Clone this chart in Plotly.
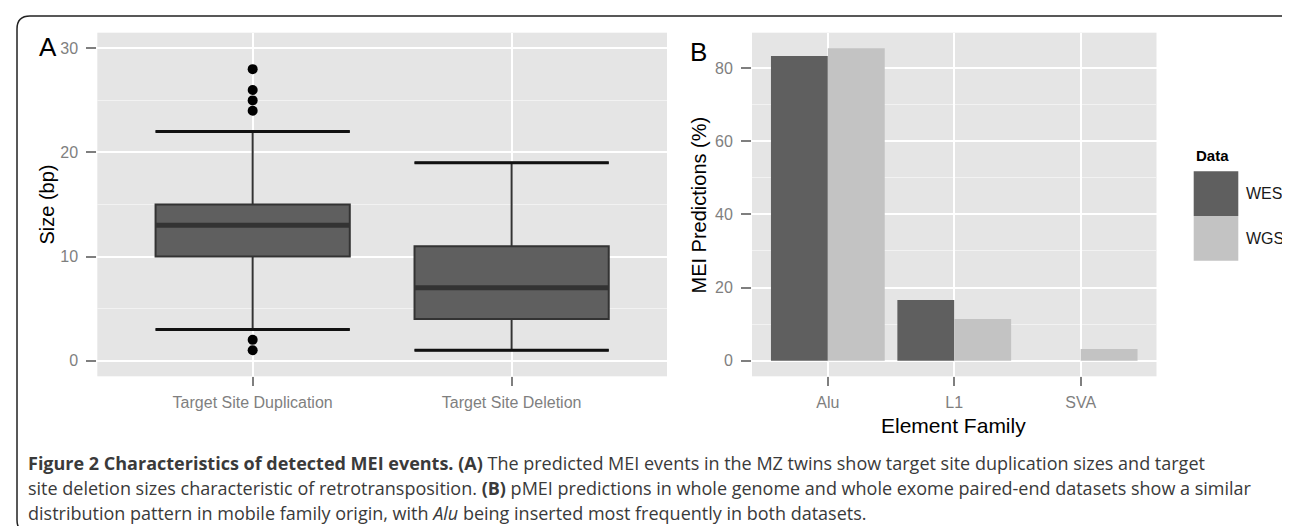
import plotly.graph_objects as go

W, H = 1290, 526

# ---------------- data ----------------
tsd_categories = ["Target Site Duplication", "Target Site Deletion"]
tsd_q1 = [10, 4]
tsd_median = [13, 7]
tsd_q3 = [15, 11]
tsd_lowerfence = [3, 1]
tsd_upperfence = [22, 19]
dup_outliers = [28, 26, 25, 24, 2, 1]

size_ticks = [0, 10, 20, 30]

families = ["Alu", "L1", "SVA"]
wes_pct = [83.3, 16.6, 0.0]
wgs_pct = [85.4, 11.4, 3.2]
pct_ticks = [0, 20, 40, 60, 80]

# ---------------- style ----------------
PANEL_BG = "#e5e5e5"
MINOR_GRID = "#f2f2f2"
BOX_FILL = "#5f5f5f"
BOX_LINE = "#333333"
WES_COLOR = "#5f5f5f"
WGS_COLOR = "#c3c3c3"
TICK_COLOR = "#7f7f7f"
AX_FONT = "Liberation Sans, Arial, sans-serif"
CAP_FONT = "Open Sans, sans-serif"
BOX_W = 0.75


def px(x):
    return x / W


def py(y):
    return 1 - y / H


posA = list(range(1, len(tsd_categories) + 1))
posB = list(range(1, len(families) + 1))

fig = go.Figure()

# Panel A: box plots from precomputed stats
fig.add_trace(go.Box(
    x=posA, q1=tsd_q1, median=tsd_median, q3=tsd_q3,
    lowerfence=tsd_lowerfence, upperfence=tsd_upperfence,
    width=BOX_W, whiskerwidth=1, boxpoints=False,
    fillcolor=BOX_FILL, line=dict(color=BOX_LINE, width=2),
    xaxis="x", yaxis="y", showlegend=False, hoverinfo="skip"))

# thicker median lines and whisker caps
for p, m in zip(posA, tsd_median):
    fig.add_trace(go.Scatter(x=[p - BOX_W / 2, p + BOX_W / 2], y=[m, m], mode="lines",
                             line=dict(color=BOX_LINE, width=5), xaxis="x", yaxis="y",
                             showlegend=False, hoverinfo="skip"))
for p, lo, hi in zip(posA, tsd_lowerfence, tsd_upperfence):
    for v in (lo, hi):
        fig.add_trace(go.Scatter(x=[p - BOX_W / 2, p + BOX_W / 2], y=[v, v], mode="lines",
                                 line=dict(color="#111111", width=3), xaxis="x", yaxis="y",
                                 showlegend=False, hoverinfo="skip"))

fig.add_trace(go.Scatter(x=[posA[0]] * len(dup_outliers), y=dup_outliers, mode="markers",
                         marker=dict(color="black", size=10), xaxis="x", yaxis="y",
                         showlegend=False, hoverinfo="skip"))

# Panel B: grouped bars
fig.add_trace(go.Bar(x=posB, y=wes_pct, name="WES", marker=dict(color=WES_COLOR, line=dict(width=0)),
                     xaxis="x2", yaxis="y2", showlegend=False, hoverinfo="skip"))
fig.add_trace(go.Bar(x=posB, y=wgs_pct, name="WGS", marker=dict(color=WGS_COLOR, line=dict(width=0)),
                     xaxis="x2", yaxis="y2", showlegend=False, hoverinfo="skip"))

ydom = [py(368.3), py(24.7)]
common_x = dict(showgrid=True, gridcolor="white", gridwidth=2, zeroline=False, showline=False,
                ticks="outside", ticklen=9, tickwidth=2, tickcolor=TICK_COLOR, ticklabelstandoff=2,
                tickfont=dict(family=AX_FONT, size=16, color=TICK_COLOR), fixedrange=True)
common_y = dict(showgrid=True, gridcolor="white", gridwidth=2, zeroline=False, showline=False,
                ticks="outside", ticklen=10, tickwidth=2, tickcolor=TICK_COLOR, ticklabelstandoff=5,
                tickfont=dict(family=AX_FONT, size=16, color=TICK_COLOR), fixedrange=True)

max_pct = max(max(wes_pct), max(wgs_pct))

fig.update_layout(
    width=W, height=H, margin=dict(l=0, r=0, t=0, b=0),
    paper_bgcolor="white", plot_bgcolor=PANEL_BG,
    barmode="group", bargap=0.1, bargroupgap=0,
    xaxis=dict(domain=[px(89.3), px(659)], range=[0.4, len(posA) + 0.6],
               tickvals=posA, ticktext=tsd_categories, anchor="y", **common_x),
    yaxis=dict(domain=ydom, range=[-1.5, 31.5], tickvals=size_ticks, anchor="x",
               minor=dict(tick0=5, dtick=10, showgrid=True, gridcolor=MINOR_GRID, gridwidth=1, ticks=""),
               **common_y),
    xaxis2=dict(domain=[px(744), px(1148.5)], range=[0.4, len(posB) + 0.6],
                tickvals=posB, ticktext=families, anchor="y2", **common_x),
    yaxis2=dict(domain=ydom, range=[-0.05 * max_pct, 1.05 * max_pct], tickvals=pct_ticks, anchor="x2",
                minor=dict(tick0=10, dtick=20, showgrid=True, gridcolor=MINOR_GRID, gridwidth=1, ticks=""),
                **common_y),
)

annotations = []


def note(text, x, y, size, color="black", xanchor="center", yanchor="middle", angle=0, family=AX_FONT):
    annotations.append(dict(text=text, x=px(x), y=py(y), xref="paper", yref="paper",
                            xanchor=xanchor, yanchor=yanchor, showarrow=False, textangle=angle,
                            align="left", font=dict(family=family, size=size, color=color)))


# axis titles
note("Size (bp)", 38, 196.5, 20, angle=-90)
note("MEI Predictions (%)", 690, 196.5, 20, angle=-90)
note("Element Family", 946, 417.5, 21)

# panel letters
note("A", 29, 39, 26, xanchor="left")
note("B", 680, 44, 26, xanchor="left")

# manual legend
note("<b>Data</b>", 1186, 147, 15, xanchor="left")
legend_items = [("WES", WES_COLOR), ("WGS", WGS_COLOR)]
shapes = []
key_top, key_h = 163.3, 44.7
for i, (lab, col) in enumerate(legend_items):
    t = key_top + i * key_h
    shapes.append(dict(type="rect", xref="paper", yref="paper", x0=px(1185.7), x1=px(1230.3),
                       y0=py(t + key_h), y1=py(t), fillcolor=col, line=dict(width=0), layer="above"))
    note(lab, 1236, t + key_h / 2, 16, color="#1a1a1a", xanchor="left")

# caption
caption_lines = [
    "<b>Figure 2 Characteristics of detected MEI events.</b> <b>(A)</b> The predicted MEI events in the MZ twins show target site duplication sizes and target",
    "site deletion sizes characteristic of retrotransposition. <b>(B)</b> pMEI predictions in whole genome and whole exome paired-end datasets show a similar",
    "distribution pattern in mobile family origin, with <i>Alu</i> being inserted most frequently in both datasets.",
]
for i, line in enumerate(caption_lines):
    note(line, 18, 455 + 25 * i, 18, color="#3a3a3a", xanchor="left", family=CAP_FONT)

# frame (rounded border)
def P(x, y):
    return f"{px(x):.5f},{py(y):.5f}"

frame = ("M " + P(22, 525) + " Q " + P(9, 525) + " " + P(9, 512) + " L " + P(9, 21) +
         " Q " + P(9, 8) + " " + P(22, 8) + " L " + P(1275, 8) + " Q " + P(1288, 8) + " " + P(1288, 21))
shapes.append(dict(type="path", xref="paper", yref="paper", path=frame,
                   line=dict(color="#222222", width=1.5)))

fig.update_layout(annotations=annotations, shapes=shapes)
fig.write_html("out.html")
